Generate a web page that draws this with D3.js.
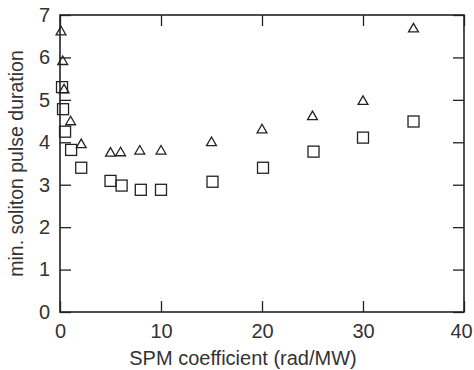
<!DOCTYPE html>
<html>
<head>
<meta charset="utf-8">
<script src="https://cdn.jsdelivr.net/npm/d3@7"></script>
<style>
  body { margin: 0; background: #fff; }
  text { font-family: "Liberation Sans", Arial, sans-serif; fill: #333; }
</style>
</head>
<body>
<div id="chart"></div>
<script>
// triangles
const triX = [0.1, 0.27, 0.4, 1.05, 2.1, 5, 6, 7.9, 10, 15, 20, 25, 30, 35];
const triY = [6.6, 5.9, 5.23, 4.48, 3.94, 3.74, 3.75, 3.79, 3.79, 3.99, 4.29, 4.6, 4.96, 6.67];
// squares
const sqX = [0.2, 0.3, 0.5, 1.1, 2.1, 5, 6.1, 8, 10, 15.1, 20.1, 25.1, 30, 35];
const sqY = [5.3, 4.78, 4.25, 3.82, 3.4, 3.09, 2.98, 2.88, 2.88, 3.07, 3.4, 3.78, 4.11, 4.49];

const xTicks = [0, 10, 20, 30, 40];
const yTicks = [0, 1, 2, 3, 4, 5, 6, 7];

const width = 474;
const height = 370;
const mLeft = 60, mRight = 464, mTop = 15, mBottom = 312;

const svg = d3.select('#chart')
.append('svg')
.attr('width', width)
.attr('height', height);

const scaleX = d3.scaleLinear()
.domain([0, 40])
.range([mLeft, mRight]);

const scaleY = d3.scaleLinear()
.domain([0, 7])
.range([mBottom, mTop]);

const ink = '#222';
const fmt = d3.format('d');

// axes, ticks pointing inward
const gx = svg.append('g')
.attr('transform', `translate(0, ${mBottom})`)
.call(d3.axisBottom(scaleX).tickValues(xTicks).tickFormat(fmt).tickSizeInner(-11).tickSizeOuter(0).tickPadding(12));

svg.append('g')
.attr('transform', `translate(${mLeft}, 0)`)
.call(d3.axisLeft(scaleY).tickValues(yTicks).tickFormat(fmt).tickSizeInner(-11).tickSizeOuter(0).tickPadding(10));

svg.append('g')
.attr('transform', `translate(0, ${mTop})`)
.call(d3.axisTop(scaleX).tickValues(xTicks).tickSizeInner(-11).tickSizeOuter(0).tickFormat(''));

svg.append('g')
.attr('transform', `translate(${mRight}, 0)`)
.call(d3.axisRight(scaleY).tickValues(yTicks).tickSizeInner(-11).tickSizeOuter(0).tickFormat(''));

svg.selectAll('.domain').remove();
svg.selectAll('.tick line').attr('stroke', ink).attr('stroke-width', 1.3);
svg.selectAll('.tick text')
.attr('font-size', 20)
.attr('fill', '#333');

// keep the last x label inside the frame
gx.selectAll('.tick text').filter(d => d === 40).attr('dx', -3);

svg.append('rect')
.attr('x', mLeft).attr('y', mTop)
.attr('width', mRight - mLeft).attr('height', mBottom - mTop)
.attr('fill', 'none')
.attr('stroke', ink)
.attr('stroke-width', 1.6);

// markers
const tri = d3.symbol().type(d3.symbolTriangle).size(42);

svg.append('g')
.selectAll('path')
.data(triX.map((x, i) => ({x: x, y: triY[i]})))
.join('path')
.attr('d', tri)
.attr('transform', d => `translate(${scaleX(d.x)}, ${scaleY(d.y)})`)
.attr('fill', 'none')
.attr('stroke', ink)
.attr('stroke-width', 1.3);

svg.append('g')
.selectAll('rect')
.data(sqX.map((x, i) => ({x: x, y: sqY[i]})))
.join('rect')
.attr('x', d => scaleX(d.x) - 5.5)
.attr('y', d => scaleY(d.y) - 5.5)
.attr('width', 11)
.attr('height', 11)
.attr('fill', 'none')
.attr('stroke', ink)
.attr('stroke-width', 1.3);

// titles
svg.append('text')
.attr('x', 243)
.attr('y', 365)
.attr('text-anchor', 'middle')
.attr('font-size', 20)
.text('SPM coefficient (rad/MW)');

svg.append('text')
.attr('transform', `translate(23, ${(mTop + mBottom) / 2}) rotate(-90)`)
.attr('text-anchor', 'middle')
.attr('font-size', 19.5)
.text('min. soliton pulse duration');
</script>
</body>
</html>
